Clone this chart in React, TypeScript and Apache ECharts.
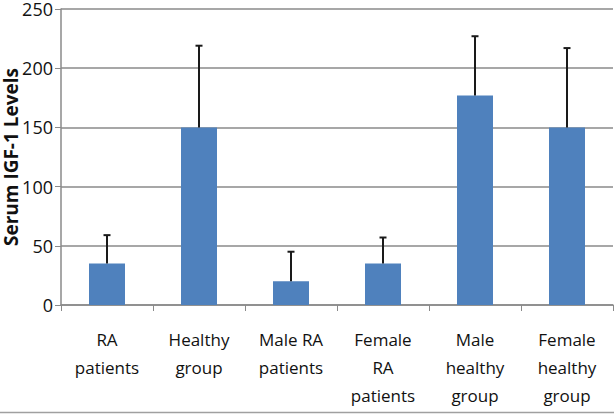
import React, { useEffect, useRef } from "react";
import * as echarts from "echarts";

const categories = [
  "RA\npatients",
  "Healthy\ngroup",
  "Male RA\npatients",
  "Female\nRA\npatients",
  "Male\nhealthy\ngroup",
  "Female\nhealthy\ngroup",
];
const means = [35, 150, 20, 35, 177, 150];
const upperErrors = [59, 219, 45, 57, 227, 217];
const yTicks = [0, 50, 100, 150, 200, 250];

export default function App() {
  const ref = useRef<HTMLDivElement>(null);
  useEffect(() => {
    if (!ref.current) return;
    const chart = echarts.init(ref.current, null, { renderer: "svg" });
    const font = "'Open Sans', 'Liberation Sans', sans-serif";
    chart.setOption({
      animation: false,
      backgroundColor: "#ffffff",
      grid: {
        left: 61,
        right: 1,
        top: 9,
        bottom: 109,
        containLabel: false,
        outerBoundsMode: "none",
      },
      graphic: [
        {
          type: "line",
          shape: { x1: 0, y1: 412.5, x2: 614, y2: 412.5 },
          style: { stroke: "#a0a0a0", lineWidth: 1.5 },
        },
      ],
      xAxis: {
        type: "category",
        data: categories,
        axisLine: { lineStyle: { color: "#8a8a8a", width: 1.5 } },
        axisTick: { show: true, length: 6, lineStyle: { color: "#8a8a8a" } },
        axisLabel: {
          color: "#111",
          fontFamily: font,
          fontSize: 17,
          lineHeight: 28,
          margin: 20,
          interval: 0,
        },
      },
      yAxis: {
        type: "value",
        min: yTicks[0],
        max: yTicks[yTicks.length - 1],
        interval: 50,
        name: "Serum IGF-1 Levels",
        nameLocation: "middle",
        nameGap: 41,
        nameMoveOverlap: false,
        nameRotate: 90,
        nameTextStyle: {
          color: "#111",
          fontFamily: font,
          fontSize: 19,
          fontWeight: "bold",
          lineHeight: 19,
        },
        axisLine: { show: true, lineStyle: { color: "#8a8a8a", width: 1.5 } },
        axisTick: { show: true, length: 6, lineStyle: { color: "#8a8a8a" } },
        axisLabel: {
          color: "#111",
          fontFamily: font,
          fontSize: 18,
          lineHeight: 17,
          margin: 8,
        },
        splitLine: { show: true, lineStyle: { color: "#8a8a8a", width: 1.5 } },
      },
      series: [
        {
          type: "bar",
          data: means,
          barWidth: 36,
          itemStyle: { color: "#4f81bd" },
          z: 2,
        },
        {
          type: "custom",
          z: 3,
          data: means.map((m, i) => [i, m, upperErrors[i]]),
          renderItem: (params: any, api: any) => {
            const i = api.value(0);
            const lo = api.coord([i, api.value(1)]);
            const hi = api.coord([i, api.value(2)]);
            const half = 3.5;
            const style = { stroke: "#1a1a1a", lineWidth: 2 };
            return {
              type: "group",
              children: [
                { type: "line", shape: { x1: lo[0], y1: lo[1], x2: hi[0], y2: hi[1] }, style },
                { type: "line", shape: { x1: hi[0] - half, y1: hi[1], x2: hi[0] + half, y2: hi[1] }, style },
              ],
            };
          },
        },
      ],
    });
    return () => chart.dispose();
  }, []);
  return (
    <div
      ref={ref}
      style={{ position: "fixed", left: 0, top: 0, width: 614, height: 414 }}
    />
  );
}
